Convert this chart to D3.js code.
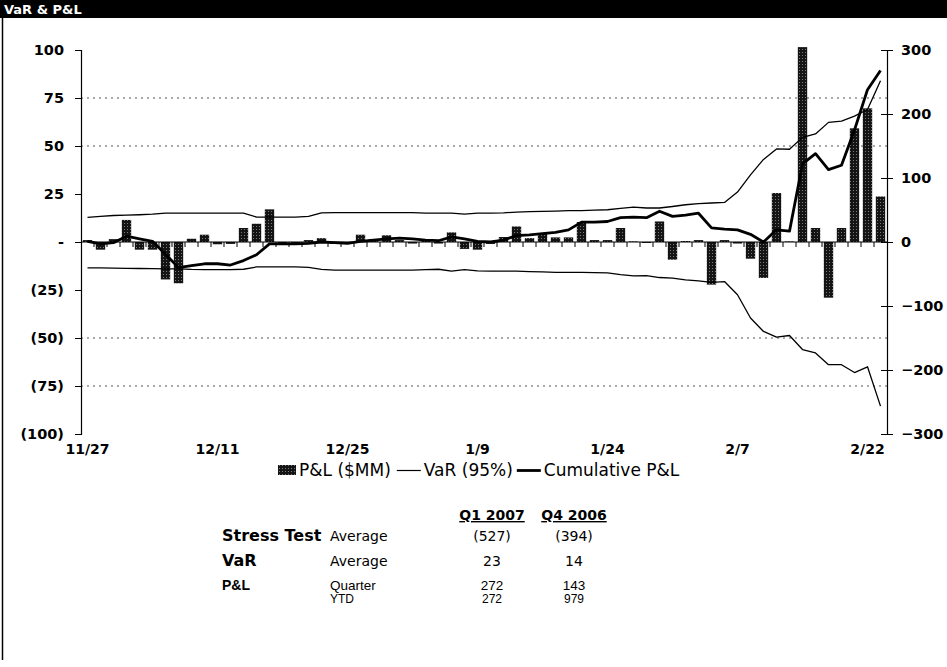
<!DOCTYPE html>
<html>
<head>
<meta charset="utf-8">
<script src="https://cdn.jsdelivr.net/npm/d3@7/dist/d3.min.js"></script>
<style>
  html, body { margin: 0; padding: 0; background: #fff; }
  svg { display: block; }
  text { font-family: "DejaVu Sans", Verdana, sans-serif; fill: #000; }
</style>
</head>
<body>
<svg id="chart" width="947" height="667"></svg>
<script>
// Trading days shown on the x axis
const dates = [
  "11/27","11/28","11/29","11/30","12/1","12/4","12/5","12/6","12/7","12/8",
  "12/11","12/12","12/13","12/14","12/15","12/18","12/19","12/20","12/21","12/22",
  "12/25","12/26","12/27","12/28","12/29","1/2","1/3","1/4","1/5","1/8",
  "1/9","1/10","1/11","1/12","1/16","1/17","1/18","1/19","1/22","1/23",
  "1/24","1/25","1/26","1/29","1/30","1/31","2/1","2/2","2/5","2/6",
  "2/7","2/8","2/9","2/12","2/13","2/14","2/15","2/16","2/20","2/21",
  "2/22","2/23"
];
const dateTicks = ["11/27","12/11","12/25","1/9","1/24","2/7","2/22"];

// Daily P&L ($MM), left axis
const pnl = [
  1, -4, 1.5, 11.5, -4, -4, -19.5, -21.5, 1.7, 3.8,
  -1.2, -1, 7.3, 9.5, 17, -1, -1, 1, 2, -1,
  -1, 3.8, 1.5, 3.5, 1, -0.8, 0.5, -0.8, 5, -3.6,
  -4, -1, 2.6, 8.1, 2, 4.5, 2.4, 2.4, 10.4, 1,
  1, 7.3, 0.3, -0.5, 10.7, -9.2, 0.5, 1, -22.2, 1,
  -0.8, -8.7, -18.7, 25.5, 0.3, 101.5, 7.3, -29, 7.3, 59.2,
  69.6, 23.7
];

// VaR (95%) band, left axis
const varUpper = [
  12.8, 13.3, 13.8, 14, 14.2, 14.5, 15, 15, 15, 15,
  15, 15, 15, 13, 13, 13, 13, 13.3, 15.2, 15.3,
  15.3, 15.3, 15.3, 15.3, 15.3, 15.3, 15, 15, 15, 14.5,
  15, 15, 15.2, 15.6, 15.8, 16, 16.1, 16.3, 16.3, 16.6,
  16.8, 17.5, 18.2, 17.7, 17.7, 18.5, 19.4, 20, 20.3, 20.6,
  26, 35, 43, 48.5, 48.3, 54.5, 56.3, 62.3, 63, 65.6,
  69, 84
];
const varLower = [
  -13.5, -13.5, -13.6, -13.7, -13.8, -13.9, -14, -14, -14.3, -14.4,
  -14.4, -14.4, -14.2, -13, -13, -13, -13, -13.2, -14.3, -14.6,
  -14.7, -14.7, -14.7, -14.6, -14.6, -14.6, -14.4, -14.2, -15.2, -14.4,
  -15, -15.2, -15.2, -15.2, -15.4, -15.6, -15.8, -15.8, -15.8, -16,
  -16.1, -17, -17.6, -17.5, -18.5, -18.8, -19.7, -20.3, -21, -20.6,
  -27.5, -39.6, -46.6, -49.5, -48.7, -56, -57.8, -63.9, -63.9, -68,
  -65, -85.5
];

// Cumulative P&L, right axis
const cumPnl = [
  1, -3, -1, 9, 5, 1, -19, -40, -37, -34,
  -34, -36, -29, -20, -3, -3, -3, -2, 0, -1,
  -2, 1, 3, 5, 6, 5, 3, 2, 8, 5,
  1, 0, 3, 10, 11, 13, 15, 19, 31, 31,
  32, 38, 39, 38, 48, 40, 42, 45, 22, 20,
  19, 12, 0, 19, 17, 122, 138, 113, 120, 175,
  238, 268
];

const leftTicks = [100, 75, 50, 25, 0, -25, -50, -75, -100];
const rightTicks = [300, 200, 100, 0, -100, -200, -300];
const gridValues = [75, 50, -50, -75];

// Summary table
const tableCols = ["Q1 2007", "Q4 2006"];
const tableGroups = ["Stress Test", "VaR", "P&L", ""];
const tableLabels = ["Average", "Average", "Quarter", "YTD"];
const tableQ1 = ["(527)", "23", "272", "272"];
const tableQ4 = ["(394)", "14", "143", "979"];

const legendItems = ["P&L ($MM)", "VaR (95%)", "Cumulative P&L"];

const svg = d3.select("#chart");
const W = 947, H = 667;

// dithered fill used by the bars
const defs = svg.append("defs");
const pat = defs.append("pattern").attr("id", "dither")
  .attr("width", 3).attr("height", 3).attr("patternUnits", "userSpaceOnUse");
pat.append("rect").attr("width", 3).attr("height", 3).attr("fill", "#141414");
pat.append("rect").attr("x", 1).attr("y", 1).attr("width", 1).attr("height", 1).attr("fill", "#7a7a7a");

// frame: title bar and left rule
svg.append("rect").attr("x", 0).attr("y", 0).attr("width", W).attr("height", 18).attr("fill", "#000");
svg.append("text").attr("x", 4).attr("y", 14)
  .style("font-weight", "bold").style("font-size", "13px").style("fill", "#fff")
  .text("VaR & P&L");
svg.append("line").attr("x1", 2.5).attr("x2", 2.5).attr("y1", 0).attr("y2", 660)
  .attr("stroke", "#000").attr("stroke-width", 1.5);

const plotL = 81, plotR = 887, plotT = 50, plotB = 434;

const x = d3.scaleBand().domain(dates).range([plotL, plotR])
  .paddingInner(0.28).paddingOuter(0.14);
const y = d3.scaleLinear().domain([-100, 100]).range([plotB, plotT]);
const yR = d3.scaleLinear().domain([-300, 300]).range([plotB, plotT]);
const cx = d => x(d) + x.bandwidth() / 2;

// dotted gridlines
svg.append("g").selectAll("line").data(gridValues).join("line")
  .attr("x1", plotL).attr("x2", plotR)
  .attr("y1", d => y(d)).attr("y2", d => y(d))
  .attr("stroke", "#555").attr("stroke-width", 1).attr("stroke-dasharray", "2,4");

// P&L bars
svg.append("g").selectAll("rect").data(pnl).join("rect")
  .attr("x", (d, i) => x(dates[i]))
  .attr("width", x.bandwidth())
  .attr("y", d => y(Math.max(0, d)))
  .attr("height", d => Math.abs(y(d) - y(0)))
  .attr("fill", "url(#dither)");

// zero axis with tick marks between days
const zero = svg.append("g");
zero.append("line").attr("x1", plotL).attr("x2", plotR)
  .attr("y1", y(0)).attr("y2", y(0)).attr("stroke", "#000").attr("stroke-width", 1.2);
zero.selectAll("line.tk").data(dates.slice(0, -1)).join("line").attr("class", "tk")
  .attr("x1", d => cx(d) + x.step() / 2).attr("x2", d => cx(d) + x.step() / 2)
  .attr("y1", y(0)).attr("y2", y(0) + 5)
  .attr("stroke", "#000").attr("stroke-width", 1);

// VaR lines
const lineL = d3.line().x((d, i) => cx(dates[i])).y(d => y(d));
[varUpper, varLower].forEach(series => {
  svg.append("path").datum(series).attr("d", lineL)
    .attr("fill", "none").attr("stroke", "#000").attr("stroke-width", 1.3)
    .attr("stroke-linejoin", "round");
});

// cumulative P&L line
const lineR = d3.line().x((d, i) => cx(dates[i])).y(d => yR(d));
svg.append("path").datum(cumPnl).attr("d", lineR)
  .attr("fill", "none").attr("stroke", "#000").attr("stroke-width", 2.8)
  .attr("stroke-linejoin", "round");

// left axis
const fmtLeft = v => v === 0 ? "-" : v < 0 ? "(" + (-v) + ")" : String(v);
const axL = d3.axisLeft(y).tickValues(leftTicks).tickFormat(fmtLeft).tickSize(6).tickPadding(11);
const gL = svg.append("g").attr("transform", `translate(${plotL},0)`).call(axL);
gL.select(".domain").attr("stroke-width", 1.2);
gL.selectAll("text").style("font-family", "'DejaVu Sans', Verdana, sans-serif")
  .style("font-size", "14.5px").style("font-weight", "bold");

// right axis
const axR = d3.axisRight(yR).tickValues(rightTicks).tickSize(6).tickPadding(8);
const gR = svg.append("g").attr("transform", `translate(${plotR},0)`).call(axR);
gR.select(".domain").attr("stroke-width", 1.2);
gR.selectAll(".tick line").attr("x1", -6);
gR.selectAll("text").style("font-family", "'DejaVu Sans', Verdana, sans-serif")
  .style("font-size", "14.5px").style("font-weight", "bold");

// date labels
const axX = d3.axisBottom(x).tickValues(dateTicks).tickSize(0).tickPadding(0);
const gX = svg.append("g").attr("transform", `translate(0,${plotB + 10})`).call(axX);
gX.select(".domain").remove();
gX.selectAll("text").style("font-family", "'DejaVu Sans', Verdana, sans-serif")
  .style("font-size", "14px").style("font-weight", "bold");

// legend
const lg = svg.append("g").attr("transform", "translate(278,476)");
let lx = 0;
lg.append("rect").attr("x", lx).attr("y", -11).attr("width", 18).attr("height", 10).attr("fill", "url(#dither)");
lx += 21;
let t = lg.append("text").attr("x", lx).attr("y", 0).style("font-size", "17px").text(legendItems[0]);
lx += t.node().getComputedTextLength() + 6;
lg.append("line").attr("x1", lx).attr("x2", lx + 24).attr("y1", -5.5).attr("y2", -5.5)
  .attr("stroke", "#000").attr("stroke-width", 1.2);
lx += 27;
t = lg.append("text").attr("x", lx).attr("y", 0).style("font-size", "17px").text(legendItems[1]);
lx += t.node().getComputedTextLength() + 4;
lg.append("line").attr("x1", lx).attr("x2", lx + 24).attr("y1", -5.5).attr("y2", -5.5)
  .attr("stroke", "#000").attr("stroke-width", 2.8);
lx += 27;
lg.append("text").attr("x", lx).attr("y", 0).style("font-size", "17px").text(legendItems[2]);

// summary table
const tb = svg.append("g");
const colX = [492, 574];
tableCols.forEach((c, j) => {
  tb.append("text").attr("x", colX[j]).attr("y", 520).attr("text-anchor", "middle")
    .style("font-size", "14px").style("font-weight", "bold")
    .style("text-decoration", "underline").text(c);
});
const rowY = [541, 566, 590, 603];
tableGroups.forEach((g, i) => {
  const narrow = i >= 2;
  const fam = narrow ? "'Liberation Sans', Arial, sans-serif" : "'DejaVu Sans', Verdana, sans-serif";
  const size = i === 3 ? "12px" : narrow ? "13.5px" : "14px";
  if (g) tb.append("text").attr("x", 222).attr("y", rowY[i])
    .style("font-family", fam).style("font-size", narrow ? "14px" : "16px")
    .style("font-weight", "bold").text(g);
  tb.append("text").attr("x", 330).attr("y", rowY[i])
    .style("font-family", fam).style("font-size", size).text(tableLabels[i]);
  tb.append("text").attr("x", colX[0]).attr("y", rowY[i]).attr("text-anchor", "middle")
    .style("font-family", fam).style("font-size", size).text(tableQ1[i]);
  tb.append("text").attr("x", colX[1]).attr("y", rowY[i]).attr("text-anchor", "middle")
    .style("font-family", fam).style("font-size", size).text(tableQ4[i]);
});
</script>
</body>
</html>
